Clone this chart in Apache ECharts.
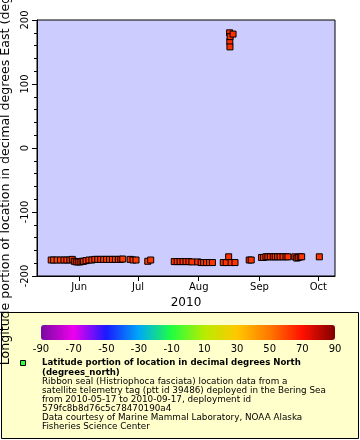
<!DOCTYPE html>
<html><head><meta charset="utf-8">
<script src="https://cdn.jsdelivr.net/npm/echarts@6/dist/echarts.min.js"></script>
<style>html,body{margin:0;padding:0;background:#fff}#c{width:360px;height:440px}</style>
</head><body><div id="c"></div>
<script>
// Observation times (UTC)
const times = [
 '2010-05-17T18:00Z','2010-05-19T00:00Z','2010-05-20T18:00Z','2010-05-22T12:00Z','2010-05-24T06:00Z',
 '2010-05-25T18:00Z','2010-05-27T06:00Z','2010-05-28T12:00Z','2010-05-29T12:00Z','2010-05-30T12:00Z',
 '2010-05-31T12:00Z','2010-06-01T12:00Z','2010-06-02T12:00Z','2010-06-03T06:00Z','2010-06-04T12:00Z',
 '2010-06-06T00:00Z','2010-06-07T12:00Z','2010-06-09T00:00Z','2010-06-10T12:00Z','2010-06-12T00:00Z',
 '2010-06-13T12:00Z','2010-06-15T00:00Z','2010-06-16T12:00Z','2010-06-18T00:00Z','2010-06-19T12:00Z',
 '2010-06-21T00:00Z','2010-06-22T06:00Z','2010-06-23T06:00Z','2010-06-27T00:00Z','2010-06-28T12:00Z',
 '2010-06-30T00:00Z','2010-07-06T00:00Z','2010-07-07T12:00Z','2010-07-19T12:00Z','2010-07-21T00:00Z',
 '2010-07-22T12:00Z','2010-07-24T00:00Z','2010-07-25T12:00Z','2010-07-27T00:00Z','2010-07-28T12:00Z',
 '2010-07-31T12:00Z','2010-08-02T06:00Z','2010-08-03T12:00Z','2010-08-05T00:00Z','2010-08-06T12:00Z',
 '2010-08-08T00:00Z','2010-08-13T12:00Z','2010-08-15T00:00Z','2010-08-16T06:00Z','2010-08-16T18:00Z',
 '2010-08-16T20:00Z','2010-08-16T22:00Z','2010-08-17T00:00Z','2010-08-17T12:00Z','2010-08-18T12:00Z',
 '2010-08-19T12:00Z','2010-08-26T18:00Z','2010-08-27T18:00Z','2010-09-02T00:00Z','2010-09-03T00:00Z',
 '2010-09-04T06:00Z','2010-09-05T06:00Z','2010-09-06T12:00Z','2010-09-08T00:00Z','2010-09-09T00:00Z',
 '2010-09-10T06:00Z','2010-09-11T12:00Z','2010-09-13T00:00Z','2010-09-14T12:00Z','2010-09-15T12:00Z',
 '2010-09-19T00:00Z','2010-09-20T00:00Z','2010-09-20T18:00Z','2010-09-21T18:00Z','2010-09-22T12:00Z',
 '2010-10-01T12:00Z'
];
// Longitude (degrees East)
const lon = [
 -175,-175,-175,-175,-175, -175,-175,-174,-177,-178, -178,-178,-177,-177,-176,
 -175,-175,-174,-174,-174, -174,-174,-174,-174,-174, -174,-174,-173.5,-174,-175,
 -175,-177,-175,-177.5,-177.5, -177.5,-177.5,-177.5,-177.5,-178, -178,-179,-179,-179,-179,
 -179,-179,-179,-170,180, 166,158,174,-179,178, -179,-175,-175,-171,-171,
 -170,-170,-170,-170,-170, -170,-170,-170,-170,-170, -170,-172,-171,-170,-170,
 -170
];
// Latitude (degrees North) -> colour
const lat = [
 60,60,61,61,62, 62,62,62,63,63, 63,63,63,63,63,
 62,62,62,62,62, 62,62,62,62,62, 62,62,62,62,62,
 62,62,62,63,63, 63,63,63,63,63, 63,63,63,63,63,
 63,63,63,64,64, 64,64,64,63,64, 63,63,63,63,63,
 63,63,63,63,63, 63,63,63,63,63, 63,63,63,63,63,
 63
];
const monthTickDates = ['2010-06-01T00:00Z','2010-07-01T00:00Z','2010-08-01T00:00Z','2010-09-01T00:00Z','2010-10-01T00:00Z'];
const monthTickLabels = ['Jun','Jul','Aug','Sep','Oct'];
const colorTickValues = [-90,-70,-50,-30,-10,10,30,50,70,90];
const paletteColors = ['#7a0aa0','#ee00ee','#1a1aff','#00a8f8','#20ff40','#b8ec00','#ffc800','#ff7800','#ff1000','#800000'];
const legendTitle = 'Latitude portion of location in decimal degrees North\n(degrees_north)';
const legendBody = 'Ribbon seal (Histriophoca fasciata) location data from a\nsatellite telemetry tag (ptt id 39486) deployed in the Bering Sea\nfrom 2010-05-17 to 2010-09-17, deployment id\n579fc8b8d76c5c78470190a4\nData courtesy of Marine Mammal Laboratory, NOAA Alaska\nFisheries Science Center';

const FONT = 'DejaVu Sans';
const tickTs = monthTickDates.map(d => Date.parse(d));
const data = times.map((t, i) => [Date.parse(t), lon[i], lat[i]]);

const chart = echarts.init(document.getElementById('c'), null, {renderer: 'canvas'});
chart.setOption({
  animation: false,
  textStyle: {fontFamily: FONT},
  graphic: [
    {type: 'rect', z: -10, shape: {x: 1.5, y: 312.5, width: 357, height: 126},
     style: {fill: '#ffffcc', stroke: '#000', lineWidth: 1}},
    {type: 'rect', z: 10, shape: {x: 20.5, y: 360.5, width: 5, height: 5},
     style: {fill: '#33ff33', stroke: '#000', lineWidth: 1}},
    {type: 'text', z: 10, left: 42, top: 358.5,
     style: {text: legendTitle, font: 'bold 8.6px "DejaVu Sans"', fill: '#000', lineHeight: 9.2}},
    {type: 'text', z: 10, left: 42, top: 377,
     style: {text: legendBody, font: '8.8px "DejaVu Sans"', fill: '#000', lineHeight: 9.1}}
  ],
  grid: [
    {left: 37, top: 20, width: 298, height: 256, show: true, backgroundColor: '#ccccff',
     borderColor: '#000', borderWidth: 1, outerBoundsMode: 'none', containLabel: false},
    {left: 41, top: 325, width: 294, height: 15, show: false, outerBoundsMode: 'none', containLabel: false}
  ],
  xAxis: [
    {type: 'value', gridIndex: 0,
     min: Date.parse('2010-05-10T12:00Z'), max: Date.parse('2010-10-09T12:00Z'),
     name: '2010', nameLocation: 'middle', nameGap: 18,
     nameTextStyle: {fontSize: 12, color: '#000', fontFamily: FONT},
     axisLine: {onZero: false, lineStyle: {color: '#000'}},
     axisTick: {show: true, inside: false, length: 5, customValues: tickTs, lineStyle: {color: '#000'}},
     axisLabel: {customValues: tickTs, fontSize: 10, color: '#000', margin: 6, fontFamily: FONT,
       formatter: v => monthTickLabels[tickTs.indexOf(v)] || ''},
     splitLine: {show: false}},
    {type: 'value', gridIndex: 1, min: -90, max: 90, interval: 20,
     axisLine: {show: false}, axisTick: {show: false}, splitLine: {show: false},
     axisLabel: {fontSize: 10, color: '#000', margin: 4, fontFamily: FONT,
       formatter: v => colorTickValues.indexOf(v) >= 0 ? String(v) : ''}}
  ],
  yAxis: [
    {type: 'value', gridIndex: 0, min: -200, max: 200, interval: 100,
     name: 'Longitude portion of location in decimal degrees East (degrees_east)',
     nameLocation: 'middle', nameGap: 13,
     nameTextStyle: {fontSize: 12.6, color: '#000', fontFamily: FONT},
     axisLine: {show: true, onZero: false, lineStyle: {color: '#000'}},
     axisTick: {show: true, length: 5, lineStyle: {color: '#000'}},
     minorTick: {show: true, splitNumber: 5, length: 3, lineStyle: {color: '#000'}},
     axisLabel: {rotate: 90, fontSize: 10, color: '#000', margin: 7, fontFamily: FONT},
     splitLine: {show: false}},
    {type: 'value', gridIndex: 1, show: false, min: 0, max: 1}
  ],
  visualMap: {
    type: 'continuous', min: -90, max: 90, dimension: 2, seriesIndex: 0,
    orient: 'horizontal', left: 41, top: 325, padding: 0,
    itemWidth: 15, itemHeight: 294, calculable: false, showLabel: false, text: null,
    inRange: {color: paletteColors}, hoverLink: false
  },
  series: [{
    type: 'scatter', xAxisIndex: 0, yAxisIndex: 0, data: data,
    symbol: 'rect', symbolSize: 6,
    itemStyle: {borderColor: '#000', borderWidth: 1, opacity: 1}
  }]
});
</script></body></html>
